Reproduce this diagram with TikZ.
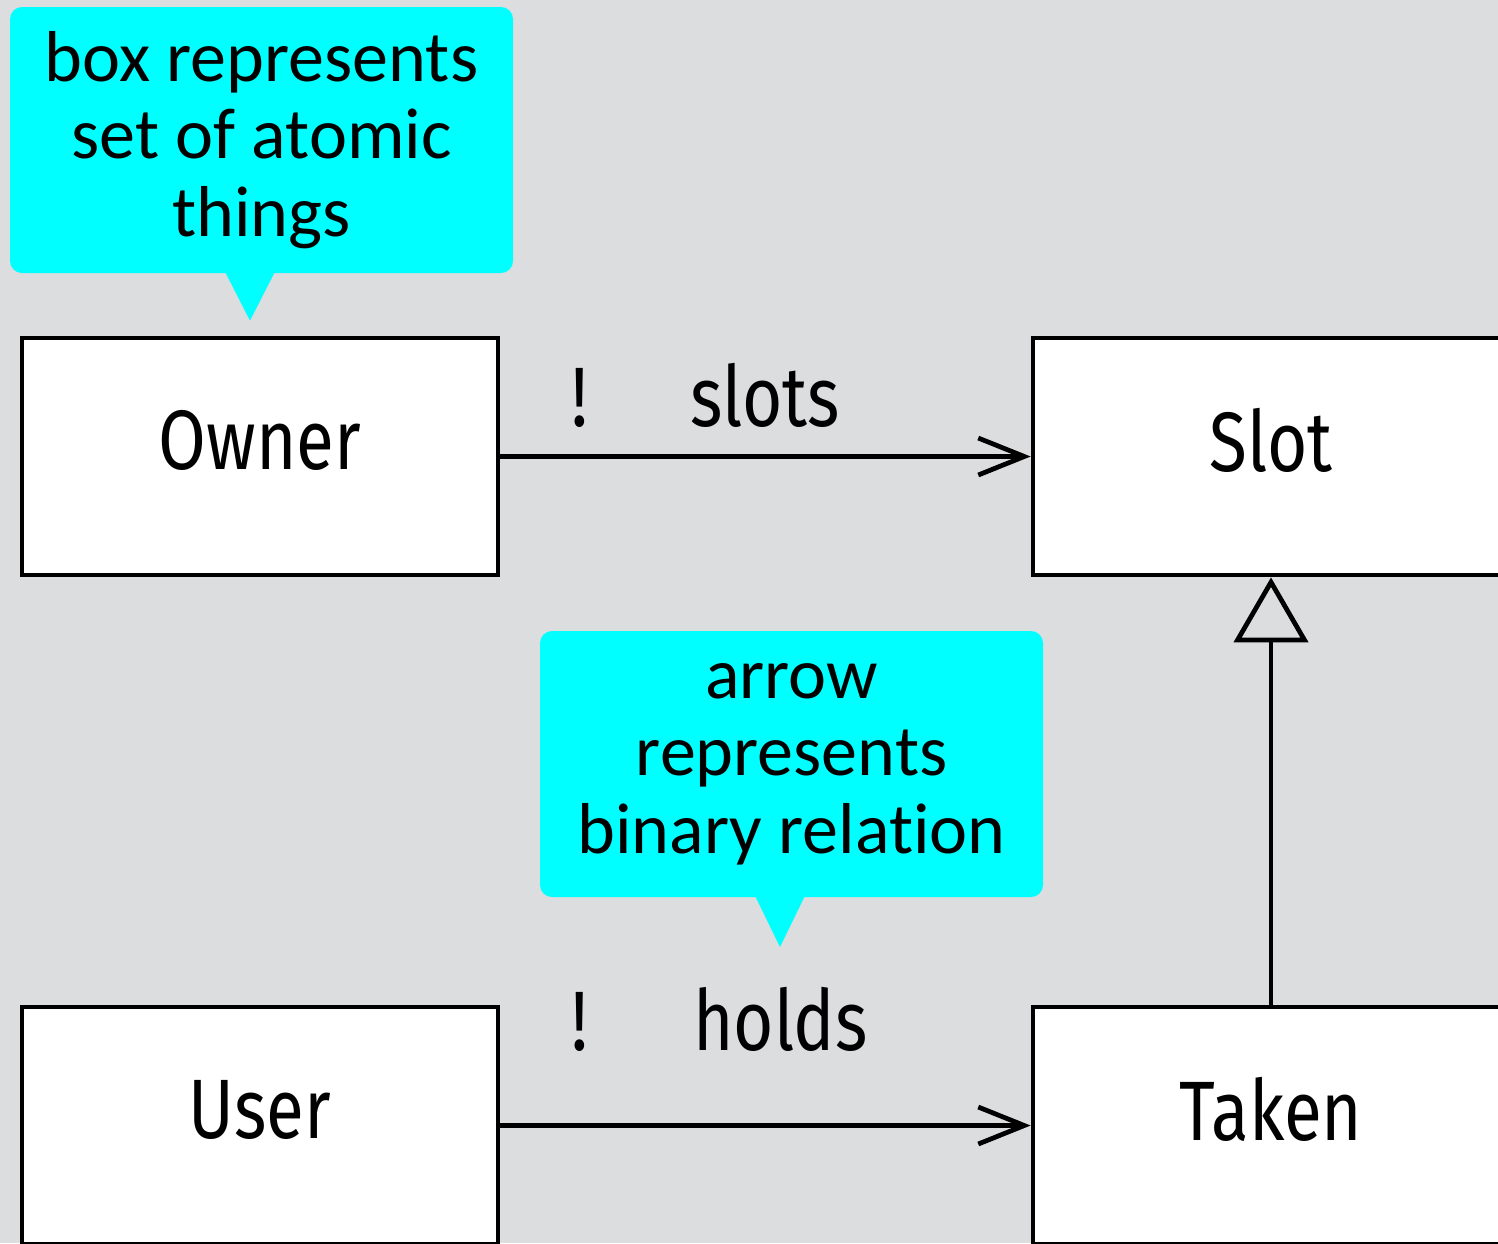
\documentclass[tikz,border=0pt]{standalone}
\usepackage{fontspec}
\setmainfont[Ligatures=NoCommon]{Carlito}
\newfontfamily\boxfont[FakeStretch=0.82]{Fira Sans}
\usetikzlibrary{arrows.meta,calc}
\definecolor{bggray}{HTML}{DCDDDF}
\definecolor{notecyan}{HTML}{00FFFF}

\begin{document}
\begin{tikzpicture}[
  sig/.style={draw, line width=1.35pt, fill=white, minimum width=4.76cm, minimum height=2.37cm, inner sep=0pt},
  signame/.style={font=\boxfont\fontsize{24}{28}\selectfont, inner sep=0pt},
  note/.style={fill=notecyan, rounded corners=0.12cm, minimum width=5.03cm, minimum height=2.66cm, align=center, inner sep=0pt, font=\fontsize{20.5}{22}\selectfont},
  rel/.style={line width=1.35pt, -{Straight Barb[length=0.46cm, width=0.37cm]}},
  ext/.style={line width=1.35pt, -{Triangle[open, length=0.65cm, width=0.74cm]}}]
  \useasboundingbox (0,0) rectangle (14.98,-12.43);
  \fill[bggray] (0,0) rectangle (14.98,-12.43);

  % signatures
  \node[sig, label={[signame, yshift=0.16cm]center:Owner}] (owner) at (2.60,-4.565) {};
  \node[sig, label={[signame, yshift=0.16cm]center:Slot}] (slot) at (12.71,-4.565) {};
  \node[sig, label={[signame, yshift=0.16cm]center:User}] (user) at (2.60,-11.255) {};
  \node[sig, label={[signame, yshift=0.16cm]center:Taken}] (taken) at (12.71,-11.255) {};

  % relations
  \draw[rel] (owner.east) -- (slot.west);
  \node[signame, anchor=base] (slotsmult) at ($(owner.east)+(0.79,0.30)$) {!};
  \node[signame, anchor=base west] (slotsname) at ($(owner.east)+(1.89,0.30)$) {slots};
  \draw[rel] (user.east) -- (taken.west);
  \node[signame, anchor=base] (holdsmult) at ($(user.east)+(0.79,0.755)$) {!};
  \node[signame, anchor=base west] (holdsname) at ($(user.east)+(1.92,0.755)$) {holds};
  \draw[ext] (taken.north) -- (slot.south);

  % callouts
  \node[note] (boxnote) at (2.615,-1.40) {box represents\\set of atomic\\things};
  \fill[notecyan] ([xshift=-0.365cm, yshift=0.02cm]boxnote.south) -- ([xshift=0.135cm, yshift=0.02cm]boxnote.south) -- ($(owner.north)+(-0.10,0.15)$) -- cycle;
  \node[note] (arrownote) at (7.915,-7.64) {arrow\\represents\\binary relation};
  \coordinate (arrowtip) at (7.80,-9.47);
  \fill[notecyan] ([xshift=-0.365cm, yshift=0.02cm]arrownote.south) -- ([xshift=0.135cm, yshift=0.02cm]arrownote.south) -- (arrowtip) -- cycle;
\end{tikzpicture}
\end{document}
